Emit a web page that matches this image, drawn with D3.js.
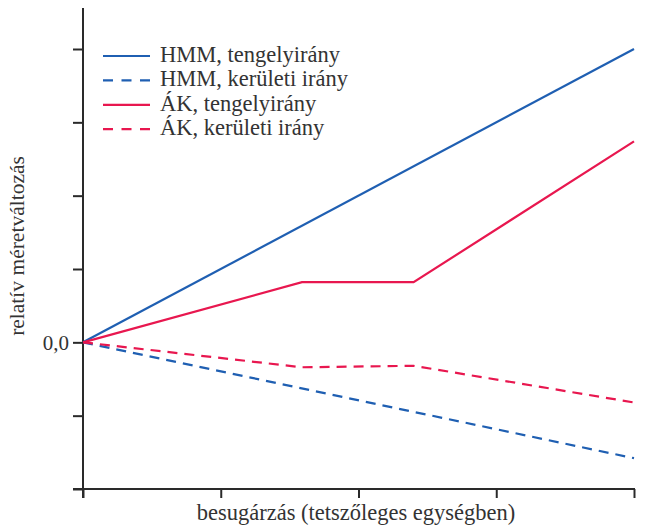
<!DOCTYPE html>
<html><head><meta charset="utf-8">
<script src="https://cdn.jsdelivr.net/npm/d3@7"></script>
<style>body{margin:0;background:#fff}svg{display:block}text{font-family:"Liberation Serif","Times New Roman",serif;fill:#333}</style>
</head><body><svg id="c" width="645" height="526"></svg>
<script>
// data (arbitrary units, y tick step = 1)
const seriesNames = ["HMM, tengelyirány","HMM, kerületi irány","ÁK, tengelyirány","ÁK, kerületi irány"];
const hmmAxialX = [0, 4];
const hmmAxialY = [0, 4.0];
const hmmCircX = [0, 4];
const hmmCircY = [0, -1.58];
const akAxialX = [0, 1.59, 2.4, 4];
const akAxialY = [0, 0.82, 0.82, 2.74];
const akCircX = [0, 1.59, 2.4, 4];
const akCircY = [0, -0.34, -0.32, -0.82];
const yTicks = [-2,-1,0,1,2,3,4];
const xTicks = [0,1,2,3,4];

const colors = ["#1f5fb2","#1f5fb2","#e8174f","#e8174f"];
const dashed = [false,true,false,true];
const xs = [hmmAxialX,hmmCircX,akAxialX,akCircX];
const ys = [hmmAxialY,hmmCircY,akAxialY,akCircY];

const svg = d3.select("#c");
const x = d3.scaleLinear().domain([0,4]).range([83,634]);
const y = d3.scaleLinear().domain([-2,4]).range([489,49]);
const axisColor = "#2a2a2a";

// y axis
const yAxis = svg.append("g").attr("transform","translate(83,0)")
  .call(d3.axisLeft(y).tickValues(yTicks).tickSize(10).tickFormat(d => d===0 ? "0,0" : ""));
yAxis.select(".domain").remove();
yAxis.selectAll("line").attr("stroke",axisColor).attr("stroke-width",2);
yAxis.selectAll("text").attr("font-size",21).attr("fill","#333").attr("x",-14)
  .style("font-family","'Liberation Serif',serif");
svg.append("line").attr("x1",83).attr("x2",83).attr("y1",8).attr("y2",498)
  .attr("stroke",axisColor).attr("stroke-width",2);

// x axis
const xAxis = svg.append("g").attr("transform","translate(0,489)")
  .call(d3.axisBottom(x).tickValues(xTicks).tickSize(9).tickFormat(""));
xAxis.select(".domain").remove();
xAxis.selectAll("line").attr("stroke",axisColor).attr("stroke-width",2);
svg.append("line").attr("x1",73).attr("x2",635).attr("y1",489).attr("y2",489)
  .attr("stroke",axisColor).attr("stroke-width",2);

// lines
const line = d3.line().x(d=>x(d[0])).y(d=>y(d[1]));
xs.forEach((xv,i)=>{
  const pts = xv.map((v,j)=>[v, ys[i][j]]);
  svg.append("path").attr("d",line(pts)).attr("fill","none")
    .attr("stroke",colors[i]).attr("stroke-width",2.2)
    .attr("stroke-dasharray",dashed[i]?"10,7":null);
});

// legend
const leg = svg.append("g");
seriesNames.forEach((n,i)=>{
  const yy = 56 + i*24.4;
  leg.append("line").attr("x1",103).attr("x2",150).attr("y1",yy).attr("y2",yy)
    .attr("stroke",colors[i]).attr("stroke-width",2.2)
    .attr("stroke-dasharray",dashed[i]?"10,8.5":null);
  leg.append("text").attr("x",160).attr("y",yy+6).attr("font-size",22.5).text(n);
});

// axis titles
svg.append("text").attr("x",356).attr("y",520).attr("text-anchor","middle")
  .attr("font-size",22.5).text("besugárzás (tetszőleges egységben)");
svg.append("text").attr("transform","translate(24,246) rotate(-90)").attr("text-anchor","middle")
  .attr("font-size",21.5).text("relatív méretváltozás");
</script></body></html>
